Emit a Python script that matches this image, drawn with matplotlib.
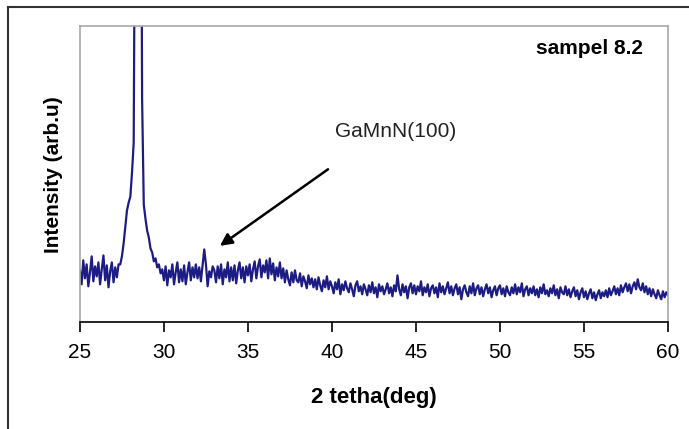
import numpy as np
import matplotlib
matplotlib.use('Agg')
from matplotlib import pyplot as plt
from matplotlib.lines import Line2D

# XRD scan, sampel 8.2 (0.1 deg steps)
two_theta_start = 25.0
two_theta_step = 0.1
intensity = [
    52, 38, 62, 44, 58, 36, 50, 66, 41, 56,          # 25
    46, 60, 38, 53, 67, 42, 57, 35, 51, 60,          # 26
    40, 55, 45, 58, 58, 66, 79, 95, 112, 120,        # 27
    126, 150, 180, 520, 950, 1100, 700, 225, 118, 104,  # 28
    92, 85, 74, 70, 61, 64, 55, 58, 49, 53,          # 29
    42, 56, 37, 52, 45, 58, 38, 50, 60, 40,          # 30
    53, 41, 57, 38, 50, 60, 42, 55, 45, 58,          # 31
    44, 55, 41, 57, 73, 58, 36, 51, 45, 56,          # 32
    52, 40, 56, 44, 58, 38, 53, 45, 60, 41,          # 33
    55, 42, 57, 39, 52, 60, 44, 55, 40, 56,          # 34
    47, 58, 41, 53, 61, 44, 56, 63, 45, 57,          # 35
    50, 62, 44, 64, 48, 59, 42, 55, 46, 60,          # 36
    44, 54, 40, 52, 43, 37, 50, 40, 52, 42,          # 37
    40, 49, 36, 46, 41, 34, 47, 38, 44, 35,          # 38
    43, 33, 45, 37, 31, 42, 35, 46, 33, 41,          # 39
    36, 29, 40, 33, 43, 28, 38, 32, 41, 34,          # 40
    30, 39, 33, 26, 37, 41, 31, 36, 28, 38,          # 41
    33, 27, 37, 30, 40, 29, 35, 25, 38, 31,          # 42
    36, 28, 33, 39, 29, 35, 26, 37, 31, 47,          # 43
    33, 27, 38, 30, 36, 24, 35, 39, 29, 37,          # 44
    28, 36, 31, 41, 27, 35, 30, 38, 26, 34,          # 45
    37, 29, 35, 25, 39, 30, 36, 28, 34, 40,          # 46
    29, 36, 27, 34, 38, 28, 35, 23, 33, 37,          # 47
    30, 26, 36, 29, 39, 27, 34, 37, 28, 35,          # 48
    26, 33, 38, 29, 35, 25, 32, 36, 27, 34,          # 49
    37, 28, 34, 26, 36, 30, 27, 35, 29, 38,          # 50
    28, 35, 30, 39, 26, 33, 36, 27, 34, 29,          # 51
    36, 27, 33, 25, 35, 29, 38, 28, 32, 26,          # 52
    34, 29, 37, 27, 33, 24, 35, 30, 28, 36,          # 53
    27, 33, 25, 31, 35, 26, 32, 23, 30, 34,          # 54
    25, 31, 23, 29, 33, 24, 30, 22, 28, 32,          # 55
    24, 30, 26, 32, 25, 34, 27, 31, 36, 28,          # 56
    34, 27, 37, 30, 35, 39, 31, 38, 29, 36,          # 57
    40, 33, 43, 35, 32, 39, 30, 36, 28, 34,          # 58
    26, 33, 28, 24, 32, 27, 23, 31, 25, 30,          # 59
    27,                                               # 60
]
two_theta = two_theta_start + two_theta_step * np.arange(len(intensity))

x_ticks = [25, 30, 35, 40, 45, 50, 55, 60]
peak_label = 'GaMnN(100)'
sample_label = 'sampel 8.2'

plt.rcParams['font.family'] = ['Liberation Sans', 'DejaVu Sans']

fig = plt.figure(figsize=(6.89, 4.29), dpi=100)
ax = fig.add_axes([0.116, 0.249, 0.8535, 0.690])

ax.plot(two_theta, intensity, color='#1c1c84', linewidth=1.6)

ax.set_xlim(25, 60)
ax.set_ylim(0, 297)
ax.set_xticks(x_ticks)
ax.set_yticks([])
ax.tick_params(axis='x', direction='out', length=7, width=1.2, labelsize=15, pad=8)

for side in ['left', 'top', 'right']:
    ax.spines[side].set_color('#a8a8a8')
    ax.spines[side].set_linewidth(1.2)
ax.spines['bottom'].set_color('black')
ax.spines['bottom'].set_linewidth(1.2)

ax.set_xlabel('2 tetha(deg)', fontsize=16, fontweight='bold', labelpad=18)
ax.set_ylabel('Intensity (arb.u)', fontsize=15, fontweight='bold', labelpad=12)

ax.text(0.957, 0.925, sample_label, transform=ax.transAxes, ha='right', va='center',
        fontsize=15, fontweight='bold')
ax.text(43.8, 191, peak_label, ha='center', va='center', fontsize=15, color='#222222')
ax.annotate('', xy=(33.2, 75), xytext=(39.9, 155),
            arrowprops=dict(arrowstyle='-|>', color='black', lw=1.8, mutation_scale=18))

# outer frame (left and top edge)
fig.add_artist(Line2D([0.011, 0.011], [0.0, 0.984], transform=fig.transFigure,
                      color='#333333', linewidth=1.5))
fig.add_artist(Line2D([0.011, 1.0], [0.984, 0.984], transform=fig.transFigure,
                      color='#333333', linewidth=1.5))

plt.savefig('out.png', dpi=100)
